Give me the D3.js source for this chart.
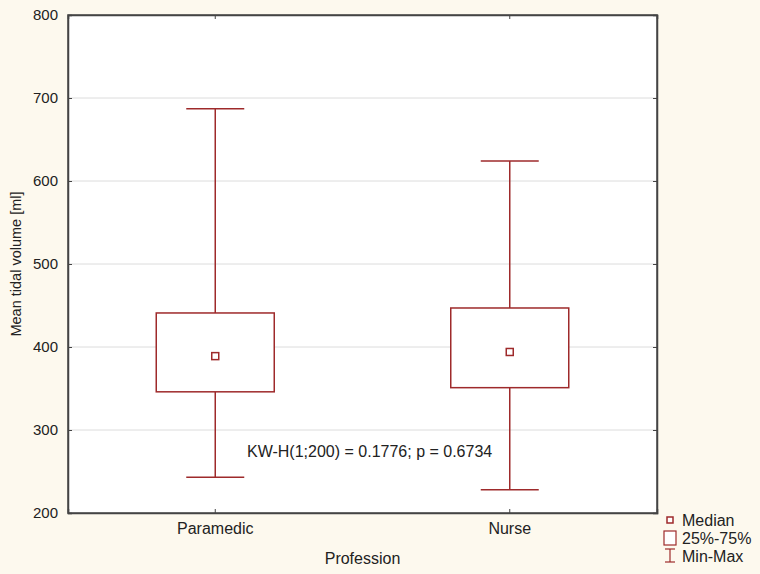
<!DOCTYPE html>
<html>
<head>
<meta charset="utf-8">
<script src="https://cdn.jsdelivr.net/npm/d3@7"></script>
<style>
  body { margin: 0; background: #fdf9ee; }
  svg { display: block; font-family: "Liberation Sans", Arial, sans-serif; }
</style>
</head>
<body>
<div id="chart"></div>
<script>
// box plot data
const professions = ["Paramedic", "Nurse"];
const minVals = [243, 228];
const q1Vals = [346, 351];
const medianVals = [389, 394];
const q3Vals = [441, 447];
const maxVals = [687, 624];
const yTicks = [200, 300, 400, 500, 600, 700, 800];
const statText = "KW-H(1;200) = 0.1776; p = 0.6734";

const W = 760, H = 574;
const margin = { top: 15, right: 103, bottom: 61, left: 68 },
      width = W - margin.left - margin.right,
      height = H - margin.top - margin.bottom;

const red = "#9e2a2b";

const rows = professions.map((p, i) => ({
  name: p, min: minVals[i], q1: q1Vals[i], med: medianVals[i], q3: q3Vals[i], max: maxVals[i]
}));

const svg = d3.select("#chart").append("svg")
  .attr("width", W).attr("height", H);

svg.append("rect").attr("width", W).attr("height", H).attr("fill", "#fdf9ee");

const g = svg.append("g").attr("transform", `translate(${margin.left},${margin.top})`);

const x = d3.scaleBand().domain(professions).range([0, width]);
const y = d3.scaleLinear().domain([200, 800]).range([height, 0]);

g.append("rect").attr("width", width).attr("height", height).attr("fill", "#fff");

// gridlines
g.selectAll("line.grid")
  .data(yTicks.filter(d => d > 200 && d < 800))
  .enter().append("line")
  .attr("x1", 0).attr("x2", width)
  .attr("y1", d => y(d)).attr("y2", d => y(d))
  .attr("stroke", "#dcdcdc").attr("stroke-width", 1);

// axes, ticks pointing inward
g.append("g").call(d3.axisLeft(y).tickValues(yTicks).tickSize(-4).tickPadding(10).tickFormat(d => d))
  .call(a => a.selectAll("text").attr("fill", "#222").style("font-size", "15px"));
g.append("g").attr("transform", `translate(${width},0)`)
  .call(d3.axisRight(y).tickValues(yTicks).tickSize(-4).tickFormat(""));
g.append("g").attr("transform", `translate(0,${height})`)
  .call(d3.axisBottom(x).tickSize(-4).tickPadding(10))
  .call(a => a.selectAll("text").attr("fill", "#222").style("font-size", "16px"));
g.append("g")
  .call(d3.axisTop(x).tickSize(-4).tickFormat(""));

g.selectAll(".domain").attr("stroke", "#444").attr("stroke-width", 1.5);
g.selectAll(".tick line").attr("stroke", "#444");

// frame
g.append("rect").attr("width", width).attr("height", height)
  .attr("fill", "none").attr("stroke", "#444").attr("stroke-width", 1.5);

const boxW = 118, capW = 58, medS = 7;
const cx = d => x(d.name) + x.bandwidth() / 2;

const box = g.selectAll("g.box").data(rows).enter().append("g");

box.append("line")
  .attr("x1", cx).attr("x2", cx)
  .attr("y1", d => y(d.max)).attr("y2", d => y(d.q3))
  .attr("stroke", red).attr("stroke-width", 1.5);
box.append("line")
  .attr("x1", cx).attr("x2", cx)
  .attr("y1", d => y(d.q1)).attr("y2", d => y(d.min))
  .attr("stroke", red).attr("stroke-width", 1.5);
box.append("line")
  .attr("x1", d => cx(d) - capW / 2).attr("x2", d => cx(d) + capW / 2)
  .attr("y1", d => y(d.max)).attr("y2", d => y(d.max))
  .attr("stroke", red).attr("stroke-width", 1.5);
box.append("line")
  .attr("x1", d => cx(d) - capW / 2).attr("x2", d => cx(d) + capW / 2)
  .attr("y1", d => y(d.min)).attr("y2", d => y(d.min))
  .attr("stroke", red).attr("stroke-width", 1.5);
box.append("rect")
  .attr("x", d => cx(d) - boxW / 2).attr("width", boxW)
  .attr("y", d => y(d.q3)).attr("height", d => y(d.q1) - y(d.q3))
  .attr("fill", "#fff").attr("stroke", red).attr("stroke-width", 1.5);
box.append("rect")
  .attr("x", d => cx(d) - medS / 2).attr("width", medS)
  .attr("y", d => y(d.med) - medS / 2).attr("height", medS)
  .attr("fill", "#fff").attr("stroke", red).attr("stroke-width", 1.5);

// statistic
g.append("text")
  .attr("x", 179).attr("y", y(275) + 6)
  .attr("fill", "#222").style("font-size", "16px")
  .text(statText);

// axis titles
svg.append("text")
  .attr("transform", `translate(21,${margin.top + height / 2}) rotate(-90)`)
  .attr("text-anchor", "middle").attr("fill", "#222").style("font-size", "14.5px")
  .text("Mean tidal volume [ml]");
svg.append("text")
  .attr("x", margin.left + width / 2).attr("y", 564)
  .attr("text-anchor", "middle").attr("fill", "#222").style("font-size", "16px")
  .text("Profession");

// legend
const lg = svg.append("g").attr("transform", "translate(670,0)");
lg.append("rect").attr("x", -3).attr("y", 517).attr("width", 6).attr("height", 6)
  .attr("fill", "#fff").attr("stroke", red).attr("stroke-width", 1.5);
lg.append("rect").attr("x", -6).attr("y", 531).attr("width", 12).attr("height", 14)
  .attr("fill", "#fff").attr("stroke", red).attr("stroke-width", 1.2);
lg.append("line").attr("x1", 0).attr("x2", 0).attr("y1", 549).attr("y2", 562)
  .attr("stroke", red).attr("stroke-width", 1.2);
lg.append("line").attr("x1", -5).attr("x2", 5).attr("y1", 549).attr("y2", 549)
  .attr("stroke", red).attr("stroke-width", 1.2);
lg.append("line").attr("x1", -5).attr("x2", 5).attr("y1", 562).attr("y2", 562)
  .attr("stroke", red).attr("stroke-width", 1.2);
const legendText = ["Median", "25%-75%", "Min-Max"];
lg.selectAll("text.leg").data(legendText).enter().append("text")
  .attr("x", 12).attr("y", (d, i) => 526 + i * 18)
  .attr("fill", "#222").style("font-size", "16px")
  .text(d => d);
</script>
</body>
</html>
